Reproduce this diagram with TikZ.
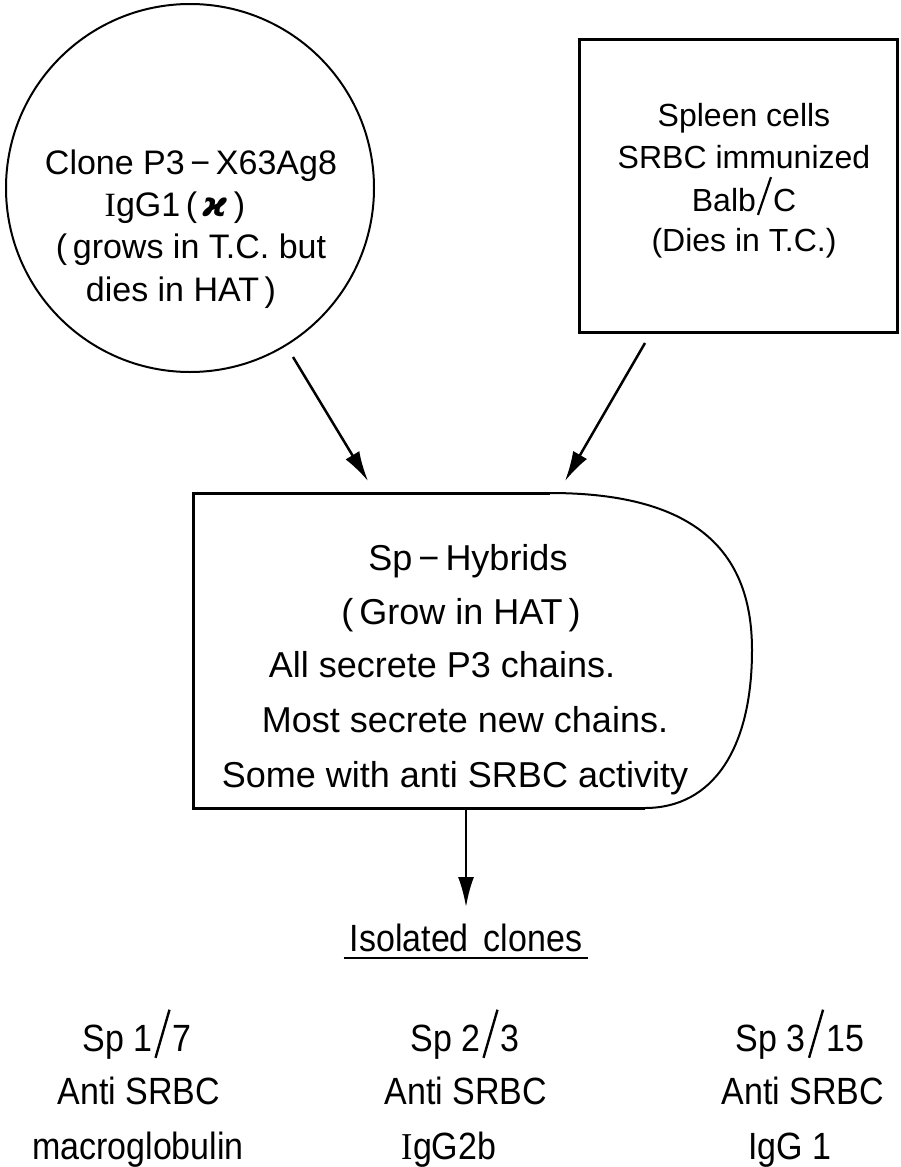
\documentclass[tikz,border=0pt]{standalone}
\usepackage{fontspec}
\setmainfont{Liberation Sans}
\newfontfamily\serifI{Liberation Serif}
\newfontfamily\dejavu{DejaVu Sans}
\usetikzlibrary{arrows.meta,calc}
\newcommand\tslash{\hspace{1pt}\raisebox{-5pt}{\rotatebox[origin=c]{-19}{\rule{2.2pt}{40pt}}}\hspace{1pt}}
\newcommand\bslash{\hspace{2pt}\raisebox{-7pt}{\rotatebox[origin=c]{-18}{\rule{2.3pt}{44pt}}}\hspace{2pt}}
\newcommand\bsc[1]{\scalebox{1.03}[1.15]{#1}}
\begin{document}
\begin{tikzpicture}[x=1pt,y=-1pt,
  txt/.style={font=\fontsize{32}{32}\selectfont, anchor=base, inner sep=0pt},
  ctxt/.style={txt, font=\fontsize{34}{34}\selectfont},
  dtxt/.style={txt, font=\fontsize{36}{36}\selectfont},
  btxt/.style={txt, font=\fontsize{33}{33}\selectfont},
  arr/.style={line width=2.5pt, -{Latex[length=30pt,width=16pt]}},
  thick box/.style={line width=3pt},
  thin box/.style={line width=2pt}]
\useasboundingbox (0,0) rectangle (900,1167);

% circle
\node[draw, circle, thin box, minimum size=368pt, inner sep=0pt] (clone) at (190,188) {};
\node[ctxt] (c1) at (191,174) {Clone P3\,−\,X63Ag8};
\node[ctxt] (c2) at (175,216) {{\serifI I}gG1\,(\,{\dejavu\bfseries\itshape ϰ}\,)};
\node[ctxt] (c3) at (191,258) {(\,grows in T.C. but};
\node[ctxt] (c4) at (181,301) {dies in HAT\,)};

% square
\node[draw, thick box, minimum width=318pt, minimum height=293pt, inner sep=0pt] (spleen) at (738,185.5) {};
\node[txt] (s1) at (744,126) {Spleen cells};
\node[txt] (s2) at (744,168) {SRBC immunized};
\node[txt] (s3) at (744,211) {Balb\tslash C};
\node[txt] (s4) at (744,251) {(Dies in T.C.)};

% D-shaped box
\coordinate (dtl) at (193,493);
\coordinate (dta) at (550,493);
\coordinate (dr) at (752,650);
\coordinate (dba) at (645,808);
\coordinate (dbl) at (193,808);
\draw[thick box] (dta) -- (dtl) -- (dbl) -- (dba);
\draw[thin box] (dta) .. controls (700,493) and (752,555) .. (dr)
  .. controls (752,750) and (712,808) .. (dba);
\node[dtxt] (h1) at (468,570) {Sp\,−\,Hybrids};
\node[dtxt] (h2) at (461,624) {(\,Grow in HAT\,)};
\node[dtxt] (h3) at (442,677) {All secrete P3 chains.};
\node[dtxt] (h4) at (465,732) {Most secrete new chains.};
\node[dtxt] (h5) at (455,787) {Some with anti SRBC activity};

% arrows
\coordinate (a1s) at (293,357);
\coordinate (a1e) at (368,481);
\coordinate (a2s) at (645,343);
\coordinate (a2e) at (565,481);
\coordinate (a3s) at (466,808);
\coordinate (a3e) at (466,907);
\draw[arr] (a1s) -- (a1e);
\draw[arr] (a2s) -- (a2e);
\draw[arr] (a3s) -- (a3e);

% isolated clones
\node[btxt] (iso) at (466,951) {\bsc{Isolated\, clones}};
\draw[line width=2pt] ($(iso.base west)+(-6,7)$) -- ($(iso.base east)+(6,7)$);

% columns
\node[btxt] (k1a) at (137,1051) {\bsc{Sp 1\bslash 7}};
\node[btxt] (k1b) at (139,1104) {\bsc{Anti SRBC}};
\node[btxt] (k1c) at (138,1159) {\bsc{macroglobulin}};
\node[btxt] (k2a) at (465,1051) {\bsc{Sp 2\bslash 3}};
\node[btxt] (k2b) at (466,1104) {\bsc{Anti SRBC}};
\node[btxt] (k2c) at (449,1159) {\bsc{{\serifI I}gG2b}};
\node[btxt] (k3a) at (800,1051) {\bsc{Sp 3\bslash 15}};
\node[btxt] (k3b) at (803,1104) {\bsc{Anti SRBC}};
\node[btxt] (k3c) at (790,1159) {\bsc{IgG 1}};
\end{tikzpicture}
\end{document}
